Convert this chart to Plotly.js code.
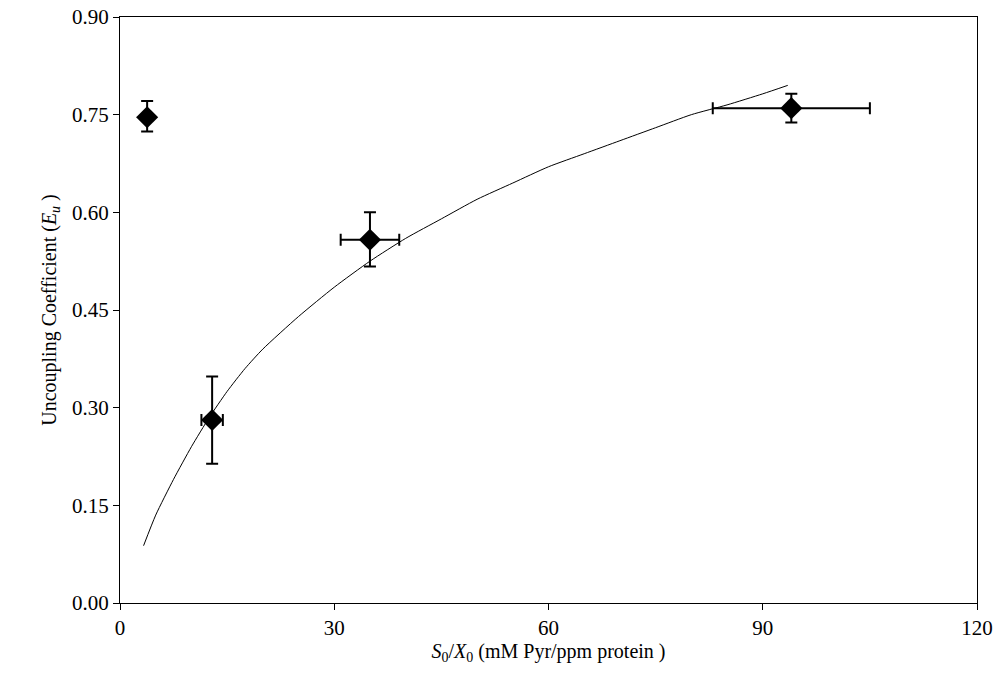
<!DOCTYPE html>
<html>
<head>
<meta charset="utf-8">
<script src="https://cdn.plot.ly/plotly-3.0.1.min.js"></script>
<style>html,body{margin:0;padding:0;background:#fff}#chart{width:1003px;height:689px}</style>
</head>
<body>
<div id="chart"></div>
<script>
(function () {
  'use strict';

  // measured points (S0/X0 vs Eu) with error bars
  var pointX = [3.8, 12.9, 35, 94];
  var pointY = [0.746, 0.281, 0.558, 0.760];
  var errX = [0, 1.5, 4.1, 11];
  var errYPlus = [0.025, 0.067, 0.042, 0.022];
  var errYMinus = [0.022, 0.067, 0.041, 0.022];

  // fitted curve
  var fitX = [3.3, 5, 7.5, 10, 12.5, 15, 17.5, 20, 25, 30, 35, 40, 45, 50, 55, 60, 65, 70, 75, 80, 85, 90, 93.5];
  var fitY = [0.088, 0.135, 0.19, 0.24, 0.285, 0.325, 0.36, 0.39, 0.44, 0.485, 0.525, 0.56, 0.59, 0.62, 0.645, 0.67, 0.69, 0.71, 0.73, 0.75, 0.765, 0.782, 0.795];

  var xTicks = [0, 30, 60, 90, 120];
  var yTicks = [0, 0.15, 0.3, 0.45, 0.6, 0.75, 0.9];

  var font = '"Liberation Serif", "Times New Roman", serif';

  var axis = {
    showgrid: false, zeroline: false, showline: true, linecolor: '#000', linewidth: 1,
    mirror: true, ticks: 'outside', ticklen: 6, tickcolor: '#000',
    tickfont: { family: font, size: 21, color: '#000' }
  };

  Plotly.newPlot('chart', [
    {
      x: fitX, y: fitY, type: 'scatter', mode: 'lines',
      line: { color: '#000', width: 1, shape: 'spline', smoothing: 0.6 }, hoverinfo: 'skip'
    },
    {
      x: pointX, y: pointY, type: 'scatter', mode: 'markers',
      marker: { symbol: 'diamond', size: 17, color: '#000' },
      error_x: { type: 'data', array: errX, visible: true, color: '#000', thickness: 2, width: 6 },
      error_y: { type: 'data', symmetric: false, array: errYPlus, arrayminus: errYMinus, visible: true, color: '#000', thickness: 2, width: 6 }
    }
  ], {
    width: 1003, height: 689,
    margin: { l: 120, r: 26, t: 17, b: 86 },
    paper_bgcolor: '#fff', plot_bgcolor: '#fff', showlegend: false,
    font: { family: font, color: '#000' },
    xaxis: Object.assign({}, axis, {
      range: [0, 120], tickvals: xTicks, ticktext: xTicks.map(String),
      title: { text: '<i>S</i><sub>0</sub>/<i>X</i><sub>0</sub> (mM Pyr/ppm protein )', font: { family: font, size: 20, color: '#000' }, standoff: 4 }
    }),
    yaxis: Object.assign({}, axis, {
      range: [0, 0.9], tickvals: yTicks, ticktext: yTicks.map(function (v) { return v.toFixed(2); }),
      title: { text: 'Uncoupling Coefficient (<i>E<sub>u</sub></i> )', font: { family: font, size: 20, color: '#000' }, standoff: 10 }
    })
  }, { displayModeBar: false, staticPlot: true });
})();
</script>
</body>
</html>
